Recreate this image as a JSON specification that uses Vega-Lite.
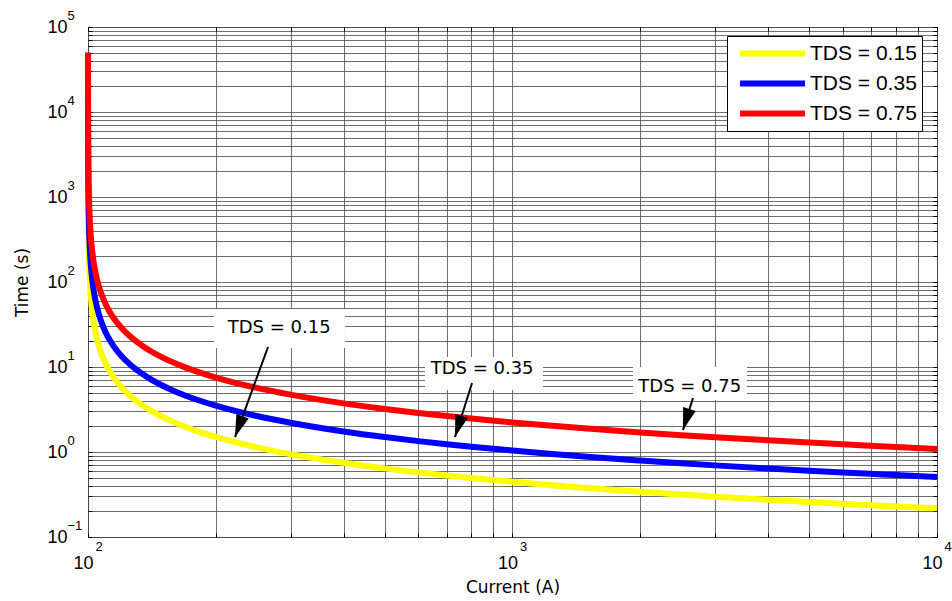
{
  "$schema": "https://vega.github.io/schema/vega-lite/v6.json",
  "width": 849,
  "height": 510,
  "autosize": "none",
  "padding": {"left": 88, "top": 27, "right": 15, "bottom": 64},
  "background": "white",
  "config": {
    "view": {"stroke": "black", "strokeWidth": 1},
    "axis": {
      "labelFont": "Liberation Sans", "labelFontSize": 18, "labelColor": "black",
      "titleFont": "DejaVu Sans", "titleFontSize": 17, "titleFontWeight": "normal", "titleColor": "black",
      "tickColor": "black", "domain": false, "gridColor": "#555", "gridOpacity": 0.85, "gridWidth": 1
    }
  },
  "datasets": {
    "curves": [
      {"I": 100.0105, "t": 10000, "TDS": "TDS = 0.15"}, {"I": 100.02, "t": 5250, "TDS": "TDS = 0.15"}, {"I": 100.05, "t": 2100, "TDS": "TDS = 0.15"}, {"I": 100.1, "t": 1051, "TDS": "TDS = 0.15"}, {"I": 100.2, "t": 525.5, "TDS": "TDS = 0.15"}, {"I": 100.5, "t": 210.5, "TDS": "TDS = 0.15"}, {"I": 101, "t": 105.5, "TDS": "TDS = 0.15"}, {"I": 102, "t": 53.0, "TDS": "TDS = 0.15"}, {"I": 103, "t": 35.5, "TDS": "TDS = 0.15"}, {"I": 105, "t": 21.5, "TDS": "TDS = 0.15"}, {"I": 107, "t": 15.5, "TDS": "TDS = 0.15"}, {"I": 110, "t": 11.0, "TDS": "TDS = 0.15"}, {"I": 112, "t": 9.25, "TDS": "TDS = 0.15"}, {"I": 115, "t": 7.50, "TDS": "TDS = 0.15"}, {"I": 120, "t": 5.75, "TDS": "TDS = 0.15"}, {"I": 125, "t": 4.695, "TDS": "TDS = 0.15"}, {"I": 130, "t": 3.99, "TDS": "TDS = 0.15"}, {"I": 135, "t": 3.488, "TDS": "TDS = 0.15"}, {"I": 140, "t": 3.11, "TDS": "TDS = 0.15"}, {"I": 150, "t": 2.58, "TDS": "TDS = 0.15"}, {"I": 160, "t": 2.224, "TDS": "TDS = 0.15"}, {"I": 170, "t": 1.97, "TDS": "TDS = 0.15"}, {"I": 180, "t": 1.776, "TDS": "TDS = 0.15"}, {"I": 200, "t": 1.504, "TDS": "TDS = 0.15"}, {"I": 250, "t": 1.135, "TDS": "TDS = 0.15"}, {"I": 300, "t": 0.945, "TDS": "TDS = 0.15"}, {"I": 400, "t": 0.747, "TDS": "TDS = 0.15"}, {"I": 500, "t": 0.642, "TDS": "TDS = 0.15"}, {"I": 600, "t": 0.576, "TDS": "TDS = 0.15"}, {"I": 700, "t": 0.529, "TDS": "TDS = 0.15"}, {"I": 800, "t": 0.495, "TDS": "TDS = 0.15"}, {"I": 1000, "t": 0.446, "TDS": "TDS = 0.15"}, {"I": 1200, "t": 0.412, "TDS": "TDS = 0.15"}, {"I": 1500, "t": 0.377, "TDS": "TDS = 0.15"}, {"I": 2000, "t": 0.340, "TDS": "TDS = 0.15"}, {"I": 2500, "t": 0.316, "TDS": "TDS = 0.15"}, {"I": 3000, "t": 0.298, "TDS": "TDS = 0.15"}, {"I": 4000, "t": 0.274, "TDS": "TDS = 0.15"}, {"I": 5000, "t": 0.258, "TDS": "TDS = 0.15"}, {"I": 6000, "t": 0.246, "TDS": "TDS = 0.15"}, {"I": 7000, "t": 0.237, "TDS": "TDS = 0.15"}, {"I": 8000, "t": 0.229, "TDS": "TDS = 0.15"}, {"I": 10000, "t": 0.218, "TDS": "TDS = 0.15"},
      {"I": 100.0105, "t": 23333, "TDS": "TDS = 0.35"}, {"I": 100.02, "t": 12250, "TDS": "TDS = 0.35"}, {"I": 100.05, "t": 4900, "TDS": "TDS = 0.35"}, {"I": 100.1, "t": 2451, "TDS": "TDS = 0.35"}, {"I": 100.2, "t": 1226, "TDS": "TDS = 0.35"}, {"I": 100.5, "t": 491.2, "TDS": "TDS = 0.35"}, {"I": 101, "t": 246.2, "TDS": "TDS = 0.35"}, {"I": 102, "t": 123.7, "TDS": "TDS = 0.35"}, {"I": 103, "t": 82.9, "TDS": "TDS = 0.35"}, {"I": 105, "t": 50.2, "TDS": "TDS = 0.35"}, {"I": 107, "t": 36.2, "TDS": "TDS = 0.35"}, {"I": 110, "t": 25.7, "TDS": "TDS = 0.35"}, {"I": 112, "t": 21.6, "TDS": "TDS = 0.35"}, {"I": 115, "t": 17.5, "TDS": "TDS = 0.35"}, {"I": 120, "t": 13.41, "TDS": "TDS = 0.35"}, {"I": 125, "t": 10.96, "TDS": "TDS = 0.35"}, {"I": 130, "t": 9.31, "TDS": "TDS = 0.35"}, {"I": 135, "t": 8.14, "TDS": "TDS = 0.35"}, {"I": 140, "t": 7.26, "TDS": "TDS = 0.35"}, {"I": 150, "t": 6.02, "TDS": "TDS = 0.35"}, {"I": 160, "t": 5.19, "TDS": "TDS = 0.35"}, {"I": 170, "t": 4.59, "TDS": "TDS = 0.35"}, {"I": 180, "t": 4.144, "TDS": "TDS = 0.35"}, {"I": 200, "t": 3.51, "TDS": "TDS = 0.35"}, {"I": 250, "t": 2.65, "TDS": "TDS = 0.35"}, {"I": 300, "t": 2.21, "TDS": "TDS = 0.35"}, {"I": 400, "t": 1.743, "TDS": "TDS = 0.35"}, {"I": 500, "t": 1.498, "TDS": "TDS = 0.35"}, {"I": 600, "t": 1.343, "TDS": "TDS = 0.35"}, {"I": 700, "t": 1.235, "TDS": "TDS = 0.35"}, {"I": 800, "t": 1.154, "TDS": "TDS = 0.35"}, {"I": 1000, "t": 1.040, "TDS": "TDS = 0.35"}, {"I": 1200, "t": 0.962, "TDS": "TDS = 0.35"}, {"I": 1500, "t": 0.880, "TDS": "TDS = 0.35"}, {"I": 2000, "t": 0.794, "TDS": "TDS = 0.35"}, {"I": 2500, "t": 0.737, "TDS": "TDS = 0.35"}, {"I": 3000, "t": 0.696, "TDS": "TDS = 0.35"}, {"I": 4000, "t": 0.640, "TDS": "TDS = 0.35"}, {"I": 5000, "t": 0.602, "TDS": "TDS = 0.35"}, {"I": 6000, "t": 0.574, "TDS": "TDS = 0.35"}, {"I": 7000, "t": 0.553, "TDS": "TDS = 0.35"}, {"I": 8000, "t": 0.535, "TDS": "TDS = 0.35"}, {"I": 10000, "t": 0.508, "TDS": "TDS = 0.35"},
      {"I": 100.0105, "t": 50000, "TDS": "TDS = 0.75"}, {"I": 100.02, "t": 26250, "TDS": "TDS = 0.75"}, {"I": 100.05, "t": 10500, "TDS": "TDS = 0.75"}, {"I": 100.1, "t": 5253, "TDS": "TDS = 0.75"}, {"I": 100.2, "t": 2628, "TDS": "TDS = 0.75"}, {"I": 100.5, "t": 1052.6, "TDS": "TDS = 0.75"}, {"I": 101, "t": 527.6, "TDS": "TDS = 0.75"}, {"I": 102, "t": 265.1, "TDS": "TDS = 0.75"}, {"I": 103, "t": 177.6, "TDS": "TDS = 0.75"}, {"I": 105, "t": 107.5, "TDS": "TDS = 0.75"}, {"I": 107, "t": 77.5, "TDS": "TDS = 0.75"}, {"I": 110, "t": 55.0, "TDS": "TDS = 0.75"}, {"I": 112, "t": 46.3, "TDS": "TDS = 0.75"}, {"I": 115, "t": 37.5, "TDS": "TDS = 0.75"}, {"I": 120, "t": 28.74, "TDS": "TDS = 0.75"}, {"I": 125, "t": 23.48, "TDS": "TDS = 0.75"}, {"I": 130, "t": 19.96, "TDS": "TDS = 0.75"}, {"I": 135, "t": 17.44, "TDS": "TDS = 0.75"}, {"I": 140, "t": 15.55, "TDS": "TDS = 0.75"}, {"I": 150, "t": 12.90, "TDS": "TDS = 0.75"}, {"I": 160, "t": 11.12, "TDS": "TDS = 0.75"}, {"I": 170, "t": 9.84, "TDS": "TDS = 0.75"}, {"I": 180, "t": 8.88, "TDS": "TDS = 0.75"}, {"I": 200, "t": 7.52, "TDS": "TDS = 0.75"}, {"I": 250, "t": 5.68, "TDS": "TDS = 0.75"}, {"I": 300, "t": 4.73, "TDS": "TDS = 0.75"}, {"I": 400, "t": 3.73, "TDS": "TDS = 0.75"}, {"I": 500, "t": 3.21, "TDS": "TDS = 0.75"}, {"I": 600, "t": 2.878, "TDS": "TDS = 0.75"}, {"I": 700, "t": 2.646, "TDS": "TDS = 0.75"}, {"I": 800, "t": 2.473, "TDS": "TDS = 0.75"}, {"I": 1000, "t": 2.228, "TDS": "TDS = 0.75"}, {"I": 1200, "t": 2.061, "TDS": "TDS = 0.75"}, {"I": 1500, "t": 1.887, "TDS": "TDS = 0.75"}, {"I": 2000, "t": 1.700, "TDS": "TDS = 0.75"}, {"I": 2500, "t": 1.579, "TDS": "TDS = 0.75"}, {"I": 3000, "t": 1.492, "TDS": "TDS = 0.75"}, {"I": 4000, "t": 1.371, "TDS": "TDS = 0.75"}, {"I": 5000, "t": 1.290, "TDS": "TDS = 0.75"}, {"I": 6000, "t": 1.230, "TDS": "TDS = 0.75"}, {"I": 7000, "t": 1.184, "TDS": "TDS = 0.75"}, {"I": 8000, "t": 1.146, "TDS": "TDS = 0.75"}, {"I": 10000, "t": 1.088, "TDS": "TDS = 0.75"}
    ],
    "notes": [
      {"id": 1, "label": "TDS = 0.15", "tx": 282, "ty": 28.8, "bx": 198, "bx2": 403, "by": 48.1, "by2": 16.7, "ax": 265.5, "ay": 17.2, "hx": 222, "hy": 1.5},
      {"id": 2, "label": "TDS = 0.35", "tx": 848, "ty": 9.47, "bx": 622, "bx2": 1180, "by": 13.1, "by2": 5.36, "ax": 803, "ay": 6.48, "hx": 732, "hy": 1.5},
      {"id": 3, "label": "TDS = 0.75", "tx": 2615, "ty": 5.82, "bx": 1923, "bx2": 3567, "by": 10.0, "by2": 4.09, "ax": 2662, "ay": 4.32, "hx": 2521, "hy": 1.815}
    ]
  },
  "layer": [
    {
      "data": {"name": "notes"},
      "mark": {"type": "rect", "fill": "white", "stroke": null},
      "encoding": {
        "x": {"field": "bx", "type": "quantitative", "scale": {"type": "log", "domain": [100, 10000], "nice": false},
          "axis": {"orient": "bottom", "values": [100,200,300,400,500,600,700,800,900,1000,2000,3000,4000,5000,6000,7000,8000,9000,10000], "labels": false, "grid": true, "ticks": true, "tickSize": -4, "title": null}},
        "x2": {"field": "bx2"},
        "y": {"field": "by", "type": "quantitative", "scale": {"type": "log", "domain": [0.1, 100000], "nice": false},
          "axis": {"orient": "left", "values": [0.1,0.2,0.3,0.4,0.5,0.6,0.7,0.8,0.9,1,2,3,4,5,6,7,8,9,10,20,30,40,50,60,70,80,90,100,200,300,400,500,600,700,800,900,1000,2000,3000,4000,5000,6000,7000,8000,9000,10000,20000,30000,40000,50000,60000,70000,80000,90000,100000], "labels": false, "grid": true, "ticks": true, "tickSize": -4, "title": null}},
        "y2": {"field": "by2"}
      }
    },
    {
      "data": {"name": "curves"},
      "mark": {"type": "line", "strokeWidth": 6, "interpolate": "monotone"},
      "encoding": {
        "x": {"field": "I", "type": "quantitative", "scale": {"type": "log", "domain": [100, 10000], "nice": false},
          "axis": {"orient": "bottom", "values": [100, 1000, 10000], "grid": false, "ticks": false, "labelPadding": 17, "labelBaseline": "top", "labelAlign": "right", "labelOffset": 5, "labelFlush": false,
            "labelExpr": "'10'",
            "title": "Current (A)", "titlePadding": 7}},
        "y": {"field": "t", "type": "quantitative", "scale": {"type": "log", "domain": [0.1, 100000], "nice": false},
          "axis": {"orient": "left", "values": [0.1, 1, 10, 100, 1000, 10000, 100000], "grid": false, "ticks": false, "labelPadding": 21, "labelFlush": false,
            "labelExpr": "'10'",
            "title": "Time (s)", "titlePadding": 15}},
        "color": {"field": "TDS", "type": "nominal",
          "scale": {"domain": ["TDS = 0.15", "TDS = 0.35", "TDS = 0.75"], "range": ["#ffff00", "#0000ff", "#ff0000"]},
          "legend": {"orient": "none", "legendX": 639, "legendY": 9, "title": null, "fillColor": "white", "strokeColor": "black", "padding": 5,
            "symbolType": "M-0.474,0L6.37,0", "symbolSize": 361, "symbolStrokeWidth": 6, "rowPadding": 5,
            "labelFont": "Liberation Sans", "labelFontSize": 21, "labelColor": "black", "labelOffset": 53, "labelExpr": "datum.label + '  '"}}
      }
    },
    {
      "data": {"name": "notes"},
      "mark": {"type": "rule", "color": "black", "strokeWidth": 2},
      "encoding": {
        "x": {"field": "ax", "type": "quantitative", "scale": {"type": "log", "domain": [100, 10000], "nice": false},
          "axis": {"orient": "bottom", "values": [100, 1000, 10000], "grid": false, "ticks": false, "labelPadding": 3, "labelBaseline": "top", "labelAlign": "left", "labelOffset": 7, "labelFontSize": 13, "labelFlush": false,
            "labelExpr": "format(round(log(datum.value)/LN10), 'd')", "title": null}},
        "y": {"field": "ay", "type": "quantitative", "scale": {"type": "log", "domain": [0.1, 100000], "nice": false},
          "axis": {"orient": "left", "values": [0.1, 1, 10, 100, 1000, 10000, 100000], "grid": false, "ticks": false, "labelPadding": 21, "labelAlign": "left", "labelOffset": -12, "labelFontSize": 13, "labelFlush": false,
            "labelExpr": "format(round(log(datum.value)/LN10), 'd')", "title": null}},
        "x2": {"field": "hx"},
        "y2": {"field": "hy"}
      }
    },
    {
      "data": {"name": "notes"},
      "transform": [{"filter": "datum.id == 1"}],
      "mark": {"type": "point", "shape": "M0,0L-0.6,2L0.6,2Z", "size": 484, "filled": true, "color": "black", "opacity": 1, "angle": 200},
      "encoding": {
        "x": {"field": "hx", "type": "quantitative", "scale": {"type": "log", "domain": [100, 10000], "nice": false}, "axis": null},
        "y": {"field": "hy", "type": "quantitative", "scale": {"type": "log", "domain": [0.1, 100000], "nice": false}, "axis": null}
      }
    },
    {
      "data": {"name": "notes"},
      "transform": [{"filter": "datum.id == 2"}],
      "mark": {"type": "point", "shape": "M0,0L-0.6,2L0.6,2Z", "size": 484, "filled": true, "color": "black", "opacity": 1, "angle": 197.5},
      "encoding": {
        "x": {"field": "hx", "type": "quantitative", "scale": {"type": "log", "domain": [100, 10000], "nice": false}, "axis": null},
        "y": {"field": "hy", "type": "quantitative", "scale": {"type": "log", "domain": [0.1, 100000], "nice": false}, "axis": null}
      }
    },
    {
      "data": {"name": "notes"},
      "transform": [{"filter": "datum.id == 3"}],
      "mark": {"type": "point", "shape": "M0,0L-0.6,2L0.6,2Z", "size": 484, "filled": true, "color": "black", "opacity": 1, "angle": 197},
      "encoding": {
        "x": {"field": "hx", "type": "quantitative", "scale": {"type": "log", "domain": [100, 10000], "nice": false}, "axis": null},
        "y": {"field": "hy", "type": "quantitative", "scale": {"type": "log", "domain": [0.1, 100000], "nice": false}, "axis": null}
      }
    },
    {
      "data": {"name": "notes"},
      "mark": {"type": "text", "font": "DejaVu Sans", "fontSize": 18, "color": "black", "align": "center", "baseline": "middle"},
      "encoding": {
        "x": {"field": "tx", "type": "quantitative", "scale": {"type": "log", "domain": [100, 10000], "nice": false},
          "axis": {"orient": "top", "values": [100,200,300,400,500,600,700,800,900,1000,2000,3000,4000,5000,6000,7000,8000,9000,10000], "labels": false, "grid": false, "ticks": true, "tickSize": -4, "title": null}},
        "y": {"field": "ty", "type": "quantitative", "scale": {"type": "log", "domain": [0.1, 100000], "nice": false},
          "axis": {"orient": "right", "values": [0.1,0.2,0.3,0.4,0.5,0.6,0.7,0.8,0.9,1,2,3,4,5,6,7,8,9,10,20,30,40,50,60,70,80,90,100,200,300,400,500,600,700,800,900,1000,2000,3000,4000,5000,6000,7000,8000,9000,10000,20000,30000,40000,50000,60000,70000,80000,90000,100000], "labels": false, "grid": false, "ticks": true, "tickSize": -4, "title": null}},
        "text": {"field": "label"}
      }
    }
  ],
  "resolve": {"axis": {"x": "independent", "y": "independent"}}
}
